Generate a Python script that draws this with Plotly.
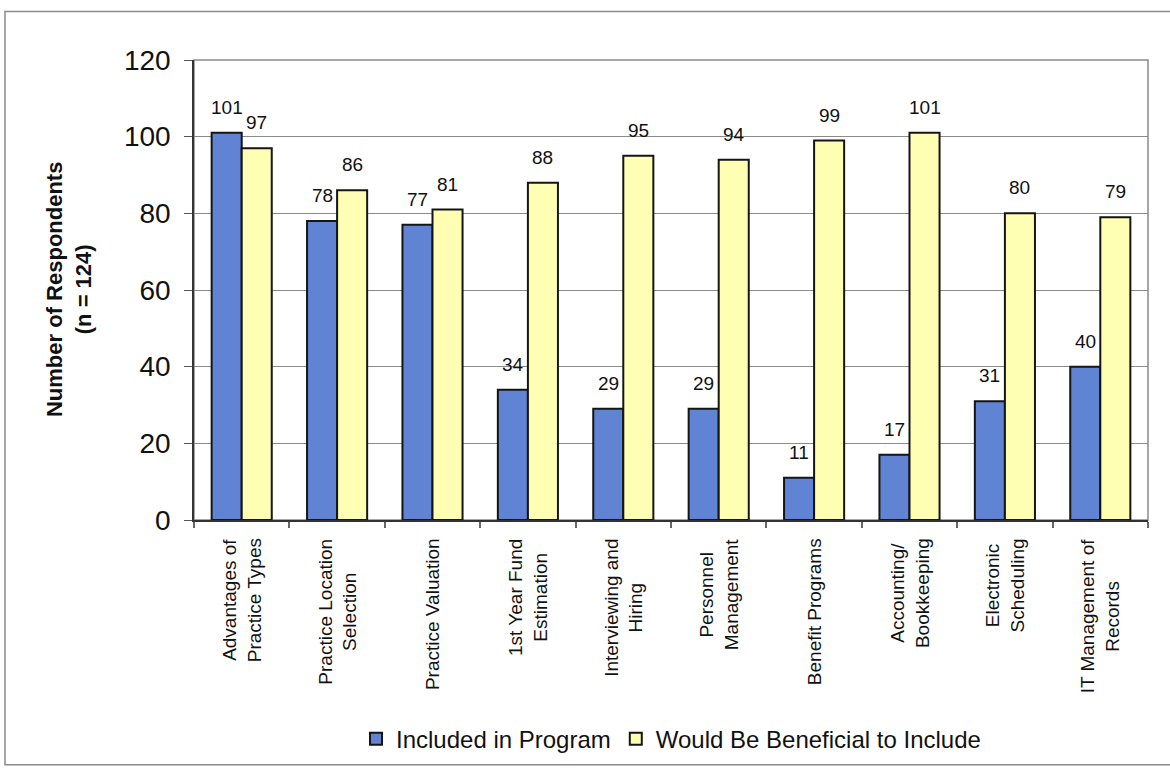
import plotly.graph_objects as go

# Survey topics and respondent counts
topics = [
    "Advantages of<br>Practice Types",
    "Practice Location<br>Selection",
    "Practice Valuation",
    "1st Year Fund<br>Estimation",
    "Interviewing and<br>Hiring",
    "Personnel<br>Management",
    "Benefit Programs",
    "Accounting/<br>Bookkeeping",
    "Electronic<br>Scheduling",
    "IT Management of<br>Records",
]
included = [101, 78, 77, 34, 29, 29, 11, 17, 31, 40]
beneficial = [97, 86, 81, 88, 95, 94, 99, 101, 80, 79]
y_ticks = [0, 20, 40, 60, 80, 100, 120]

series_names = ["Included in Program", "Would Be Beneficial to Include"]
series_colors = ["#6083D3", "#FFFFB4"]

FONT = "Arial, Liberation Sans, sans-serif"
BARGAP = 0.37

# categories are referenced by index so value labels can sit over each bar
cat_idx = list(range(len(topics)))
boundaries = [i - 0.5 for i in range(len(topics) + 1)]

fig = go.Figure()
for name, vals, col in zip(series_names, [included, beneficial], series_colors):
    fig.add_trace(go.Bar(
        x=cat_idx, y=vals, name=name,
        marker=dict(color=col, line=dict(color="#151515", width=2)),
    ))

# value labels above each bar
half = (1 - BARGAP) / 4
annotations = []
for i in cat_idx:
    for vals, off in ((included, -half), (beneficial, half)):
        annotations.append(dict(
            x=i + off, y=vals[i], xref="x", yref="y",
            text=str(vals[i]), showarrow=False,
            yanchor="bottom", yshift=13,
            font=dict(family=FONT, size=19, color="#111"),
        ))

# rotated category labels with centred lines
for i, t in enumerate(topics):
    annotations.append(dict(
        x=i, y=-0.036, xref="x", yref="paper",
        text=t, showarrow=False, textangle=-90,
        xanchor="center", yanchor="top", align="center",
        font=dict(family=FONT, size=19, color="#111"),
    ))

# y-axis title
annotations.append(dict(
    x=-0.131, y=0.5, xref="paper", yref="paper",
    text="<b>Number of Respondents<br>(n = 124)</b>", showarrow=False,
    textangle=-90, xanchor="center", yanchor="middle", align="center",
    font=dict(family=FONT, size=22, color="#111"),
))

L, R, T, B = 194, 22, 60, 249
W, H = 1170, 773
pw, ph = W - L - R, H - T - B

def px_x(p):
    return (p - L) / pw

def px_y(p):
    return (H - B - p) / ph

shapes = [
    # plot-area frame
    dict(type="rect", xref="paper", yref="paper", x0=0, x1=1, y0=0, y1=1,
         line=dict(color="#8a8a8a", width=1.5), layer="below"),
    # outer chart frame
    dict(type="rect", xref="paper", yref="paper",
         x0=px_x(5), x1=px_x(1175), y0=px_y(771), y1=px_y(11),
         line=dict(color="#8a8a8a", width=1.5)),
]

fig.update_layout(
    width=W, height=H,
    margin=dict(l=L, r=R, t=T, b=B),
    paper_bgcolor="white", plot_bgcolor="white",
    barmode="group", bargap=BARGAP, bargroupgap=0,
    font=dict(family=FONT, color="#111"),
    showlegend=True,
    legend=dict(
        orientation="h", x=0.5, xanchor="center",
        y=px_y(745), yanchor="middle",
        font=dict(family=FONT, size=24, color="#111"),
        itemwidth=30, bgcolor="rgba(0,0,0,0)",
    ),
    annotations=annotations,
    shapes=shapes,
    xaxis=dict(
        range=[-0.5, len(topics) - 0.5],
        tickmode="array", tickvals=boundaries,
        showticklabels=False, showgrid=False, zeroline=False,
        showline=True, linecolor="#333", linewidth=1.5,
        ticks="outside", ticklen=6, tickcolor="#666", tickwidth=1.5,
    ),
    yaxis=dict(
        range=[0, 120], tickvals=y_ticks,
        tickfont=dict(family=FONT, size=28, color="#111"),
        showgrid=True, gridcolor="#8a8a8a", gridwidth=1,
        zeroline=False,
        showline=True, linecolor="#333", linewidth=1.5,
        ticks="outside", ticklen=8, tickcolor="#555",
        ticklabelstandoff=8,
    ),
)

fig.write_html("out.html")
